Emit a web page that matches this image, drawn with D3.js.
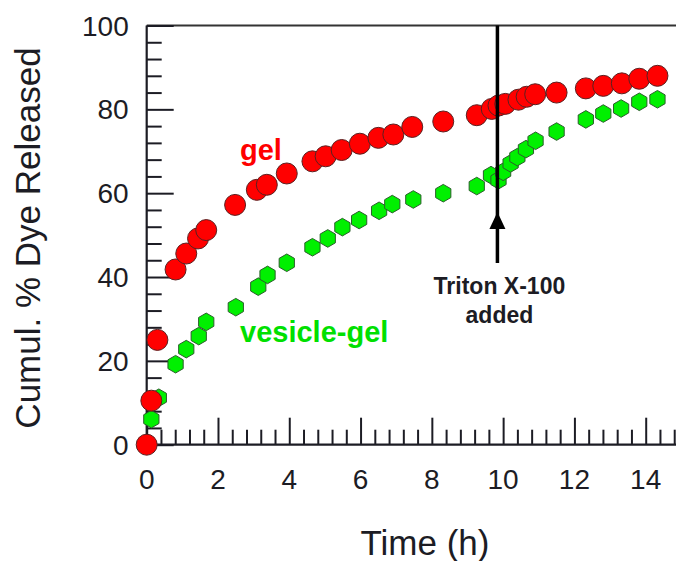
<!DOCTYPE html>
<html>
<head>
<meta charset="utf-8">
<script src="https://cdn.jsdelivr.net/npm/d3@7"></script>
<style>
  body { margin: 0; background: #fff; }
  svg { display: block; font-family: "Liberation Sans", Arial, sans-serif; }
</style>
</head>
<body>
<svg id="chart" width="676" height="561"></svg>
<script>
// gel (red circles)
var gelTime  = [0, 0.13, 0.3, 0.81, 1.11, 1.44, 1.67, 2.48, 3.09, 3.37, 3.93, 4.65, 5.02, 5.47, 5.98, 6.5, 6.92, 7.45, 8.32, 9.26, 9.68, 9.87, 10.06, 10.43, 10.66, 10.9, 11.5, 12.32, 12.81, 13.33, 13.82, 14.33]
var gelValue = [0, 10.5, 25, 41.8, 45.6, 49.2, 51.2, 57.2, 60.8, 62, 64.7, 67.6, 68.8, 70.3, 71.8, 73.2, 74, 75.8, 77.1, 78.6, 80.1, 80.9, 81.3, 82.3, 83, 83.6, 84, 85, 85.6, 86.2, 87.3, 88]

// vesicle-gel (green hexagons)
var vesTime  = [0, 0.13, 0.34, 0.81, 1.11, 1.46, 1.67, 2.5, 3.13, 3.39, 3.93, 4.65, 5.08, 5.49, 5.96, 6.52, 6.89, 7.48, 8.32, 9.26, 9.66, 9.87, 10.0, 10.21, 10.4, 10.64, 10.91, 11.5, 12.32, 12.81, 13.31, 13.82, 14.33]
var vesValue = [0, 6.1, 11.2, 19.2, 22.8, 25.9, 29.3, 32.8, 37.7, 40.5, 43.4, 47.1, 49.2, 51.9, 53.6, 55.8, 57.4, 58.5, 60, 61.7, 64.3, 63.1, 65.1, 67.1, 68.6, 70.5, 72.5, 74.7, 77.6, 79, 80.2, 81.8, 82.4]

var xTicks = [0, 2, 4, 6, 8, 10, 12, 14]
var yTicks = [0, 20, 40, 60, 80, 100]
var tritonTime = 9.84

var svg = d3.select("#chart")
var width = 676, height = 561

var x = d3.scaleLinear().domain([0, 14]).range([146.7, 645.7])
var y = d3.scaleLinear().domain([0, 100]).range([444.7, 25.5])
var xMax = x.invert(width)

var ink = "#1c1c24"

// top frame line
svg.append("line")
  .attr("x1", x(0)).attr("x2", width)
  .attr("y1", y(100)).attr("y2", y(100))
  .style("stroke", "#333").style("stroke-width", 2)

// x axis: major ticks every 2 (long), minor every 0.4 (short), pointing up
var xAxisMajor = d3.axisBottom(x).tickValues(xTicks).tickSize(-27).tickFormat("")
var xMinor = d3.range(0, xMax + 0.01, 0.4).filter(function (d) { return Math.abs(d / 2 - Math.round(d / 2)) > 0.01 })
var xAxisMinor = d3.axisBottom(x).tickValues(xMinor).tickSize(-15).tickFormat("")

var gx = svg.append("g").attr("transform", "translate(0," + y(0) + ")")
gx.call(xAxisMajor)
gx.append("g").call(xAxisMinor)
gx.selectAll(".domain").remove()
gx.selectAll("line").style("stroke", ink).style("stroke-width", 2)
gx.append("line").attr("x1", x(0)).attr("x2", width).style("stroke", ink).style("stroke-width", 2.2)

gx.selectAll(".xlab")
  .data(xTicks)
  .enter()
  .append("text")
    .attr("class", "xlab")
    .attr("x", function (d) { return x(d) })
    .attr("y", 44)
    .attr("text-anchor", "middle")
    .style("font-size", "28px")
    .style("fill", ink)
    .text(function (d) { return d })

// y axis: major every 20, minor every 4, pointing right
var yMinor = d3.range(0, 100.01, 4).filter(function (d) { return d % 20 != 0 })
var gy = svg.append("g").attr("transform", "translate(" + x(0) + ",0)")
gy.call(d3.axisLeft(y).tickValues(yTicks).tickSize(-27).tickFormat(""))
gy.append("g").call(d3.axisLeft(y).tickValues(yMinor).tickSize(-15).tickFormat(""))
gy.selectAll(".domain").remove()
gy.selectAll("line").style("stroke", ink).style("stroke-width", 2)
gy.append("line").attr("y1", y(0)).attr("y2", y(100)).style("stroke", ink).style("stroke-width", 2.2)

gy.selectAll(".ylab")
  .data(yTicks)
  .enter()
  .append("text")
    .attr("class", "ylab")
    .attr("x", -18)
    .attr("y", function (d) { return y(d) })
    .attr("dy", "0.36em")
    .attr("text-anchor", "end")
    .style("font-size", "28px")
    .style("fill", ink)
    .text(function (d) { return d })

// axis titles
svg.append("text")
  .attr("x", 425).attr("y", 555)
  .attr("text-anchor", "middle")
  .style("font-size", "35px")
  .style("fill", ink)
  .text("Time (h)")

svg.append("text")
  .attr("transform", "translate(40,238) rotate(-90)")
  .attr("text-anchor", "middle")
  .style("font-size", "35px")
  .style("fill", ink)
  .text("Cumul. % Dye Released")

// vesicle-gel points
var hex = d3.symbol().type({
  draw: function (ctx, size) {
    var r = Math.sqrt(size)
    for (var i = 0; i < 6; i++) {
      var a = Math.PI / 3 * i - Math.PI / 2
      if (i == 0) ctx.moveTo(r * Math.cos(a), r * Math.sin(a))
      else ctx.lineTo(r * Math.cos(a), r * Math.sin(a))
    }
    ctx.closePath()
  }
}).size(8.8 * 8.8)

var vesData = vesTime.map(function (t, i) { return { t: t, v: vesValue[i] } })
var gelData = gelTime.map(function (t, i) { return { t: t, v: gelValue[i] } })

svg.append("g")
  .selectAll("path")
  .data(vesData)
  .enter()
  .append("path")
    .attr("d", hex)
    .attr("transform", function (d) { return "translate(" + x(d.t) + "," + y(d.v) + ")" })
    .style("fill", "#00f000")
    .style("stroke", "#2b5e2b")
    .style("stroke-width", 1)

// gel points
svg.append("g")
  .selectAll("circle")
  .data(gelData)
  .enter()
  .append("circle")
    .attr("cx", function (d) { return x(d.t) })
    .attr("cy", function (d) { return y(d.v) })
    .attr("r", 10.5)
    .style("fill", "#ff0000")
    .style("stroke", "#5a2020")
    .style("stroke-width", 1)

// Triton X-100 marker
svg.append("line")
  .attr("x1", x(tritonTime)).attr("x2", x(tritonTime))
  .attr("y1", y(100)).attr("y2", 263)
  .style("stroke", "#000").style("stroke-width", 3.5)

svg.append("path")
  .attr("d", d3.line()([[x(tritonTime), 212], [x(tritonTime) - 8, 229], [x(tritonTime) + 8, 229]]) + "Z")
  .style("fill", "#000")

svg.append("text")
  .attr("x", x(tritonTime) + 2).attr("y", 294)
  .attr("text-anchor", "middle")
  .style("font-size", "23px").style("font-weight", "bold")
  .style("fill", ink)
  .text("Triton X-100")

svg.append("text")
  .attr("x", x(tritonTime) + 2).attr("y", 323)
  .attr("text-anchor", "middle")
  .style("font-size", "23px").style("font-weight", "bold")
  .style("fill", ink)
  .text("added")

// series labels
svg.append("text")
  .attr("x", 240).attr("y", 160)
  .style("font-size", "29px").style("font-weight", "bold")
  .style("fill", "#ff0000")
  .text("gel")

svg.append("text")
  .attr("x", 240).attr("y", 342)
  .style("font-size", "29px").style("font-weight", "bold")
  .style("fill", "#00e000")
  .text("vesicle-gel")
</script>
</body>
</html>
